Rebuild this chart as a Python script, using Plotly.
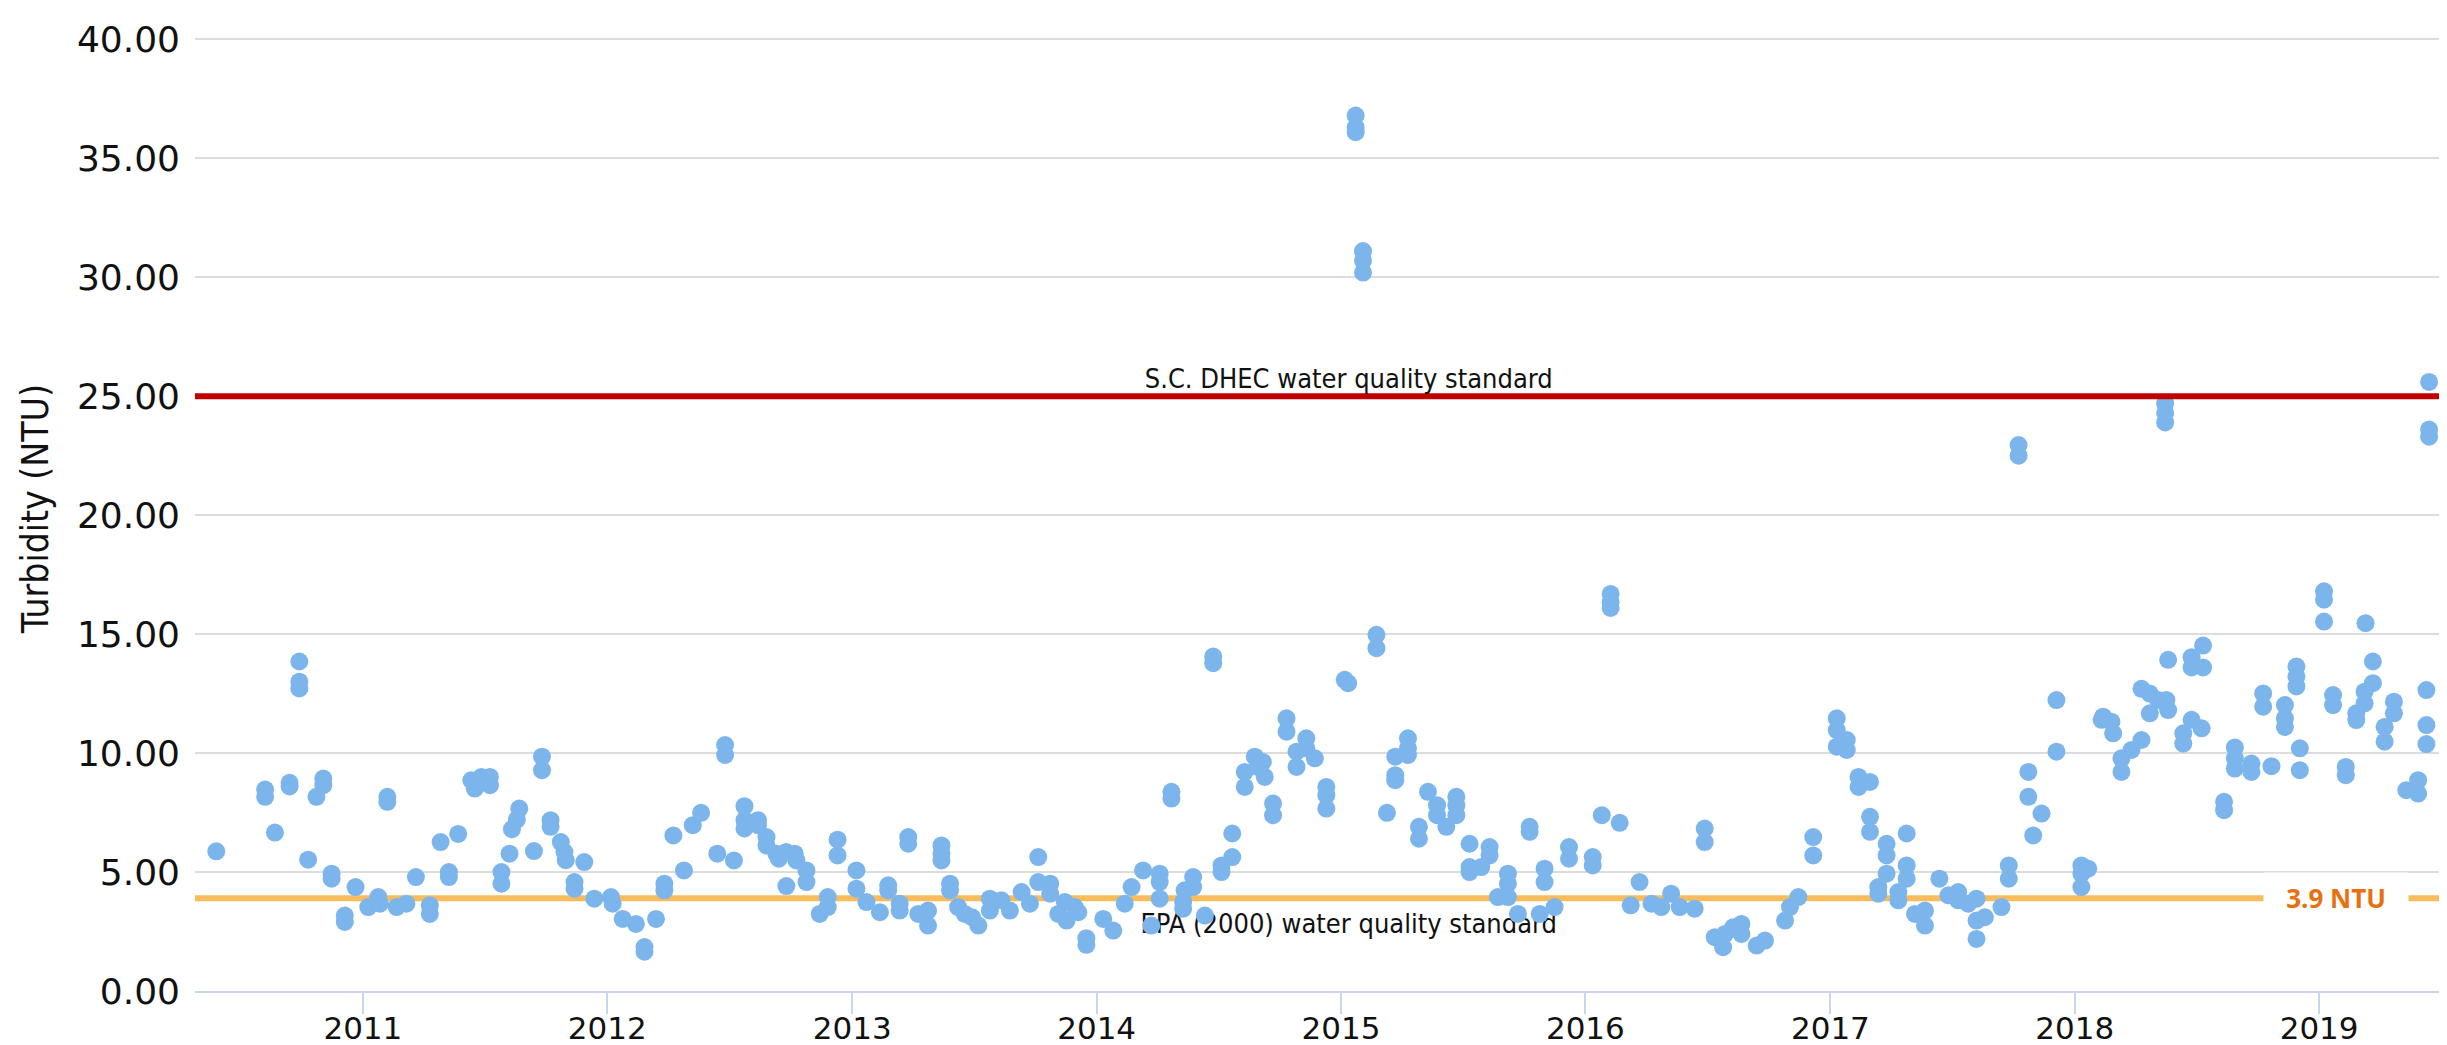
import datetime as dt
import plotly.graph_objects as go

# Sampling dates (decimal years) and turbidity values (NTU)
sample_year = [
    2010.40, 2010.60, 2010.60, 2010.64, 2010.70, 2010.70, 2010.74, 2010.74, 2010.74, 2010.776,
    2010.81, 2010.838, 2010.838, 2010.872, 2010.872, 2010.926, 2010.926, 2010.97, 2011.022, 2011.063,
    2011.07, 2011.10, 2011.10, 2011.138, 2011.178, 2011.217, 2011.274, 2011.274, 2011.318, 2011.352,
    2011.352, 2011.39, 2011.444, 2011.458, 2011.485, 2011.52, 2011.52, 2011.567, 2011.567, 2011.60,
    2011.61, 2011.63, 2011.64, 2011.70, 2011.733, 2011.733, 2011.768, 2011.768, 2011.81, 2011.825,
    2011.83, 2011.866, 2011.866, 2011.906,
    2011.947, 2012.015, 2012.022, 2012.063, 2012.117, 2012.152, 2012.152, 2012.199, 2012.233, 2012.233,
    2012.27, 2012.313, 2012.349, 2012.383, 2012.449, 2012.481, 2012.481, 2012.517, 2012.56, 2012.56,
    2012.56, 2012.615, 2012.615, 2012.65, 2012.65, 2012.69, 2012.70, 2012.73, 2012.731, 2012.765,
    2012.772, 2012.813, 2012.813, 2012.867, 2012.90, 2012.90, 2012.94, 2012.94, 2013.017, 2013.017,
    2013.058, 2013.113, 2013.147, 2013.147, 2013.194, 2013.194, 2013.229, 2013.229, 2013.27, 2013.31,
    2013.31, 2013.365, 2013.365, 2013.365, 2013.40, 2013.40, 2013.433, 2013.46,
    2013.49, 2013.516, 2013.563, 2013.563, 2013.61, 2013.645, 2013.693, 2013.727, 2013.761, 2013.761,
    2013.81, 2013.81, 2013.843, 2013.87, 2013.877, 2013.91, 2013.925, 2013.958, 2013.958, 2014.027,
    2014.068, 2014.115, 2014.143, 2014.19, 2014.224, 2014.258, 2014.258, 2014.258, 2014.306, 2014.306,
    2014.354, 2014.354, 2014.36, 2014.395, 2014.395, 2014.443, 2014.477, 2014.477, 2014.511, 2014.511,
    2014.555, 2014.555, 2014.606, 2014.606, 2014.647, 2014.66, 2014.68, 2014.688, 2014.722, 2014.722,
    2014.777, 2014.777, 2014.818, 2014.818, 2014.858, 2014.858, 2014.893, 2014.94, 2014.94, 2014.94,
    2015.015,
    2015.029, 2015.06, 2015.06, 2015.06, 2015.09, 2015.09, 2015.09, 2015.145, 2015.145, 2015.188,
    2015.222, 2015.222, 2015.222, 2015.274, 2015.274, 2015.274, 2015.319, 2015.319, 2015.356, 2015.393,
    2015.393, 2015.431, 2015.472, 2015.472, 2015.472, 2015.526, 2015.526, 2015.526, 2015.574, 2015.608,
    2015.608, 2015.642, 2015.683, 2015.683, 2015.683, 2015.724, 2015.772, 2015.772, 2015.813, 2015.833,
    2015.833, 2015.874, 2015.933, 2015.933, 2016.03, 2016.03, 2016.067, 2016.103, 2016.103, 2016.103,
    2016.14, 2016.185, 2016.221, 2016.27, 2016.31, 2016.35, 2016.385, 2016.446, 2016.487, 2016.487,
    2016.528, 2016.562,
    2016.57, 2016.603, 2016.637, 2016.637, 2016.699, 2016.733, 2016.815, 2016.835, 2016.869, 2016.93,
    2016.93, 2017.026, 2017.026, 2017.026, 2017.067, 2017.067, 2017.115, 2017.115, 2017.162, 2017.162,
    2017.162, 2017.196, 2017.196, 2017.23, 2017.23, 2017.23, 2017.278, 2017.278, 2017.312, 2017.312,
    2017.312, 2017.346, 2017.387, 2017.387, 2017.446, 2017.483, 2017.523, 2017.523, 2017.564, 2017.598,
    2017.598, 2017.598, 2017.632, 2017.70, 2017.73, 2017.73, 2017.77, 2017.77, 2017.81, 2017.81,
    2017.83, 2017.864, 2017.925, 2017.925, 2018.027, 2018.027, 2018.027, 2018.055, 2018.11,
    2018.116, 2018.15, 2018.157, 2018.191, 2018.191, 2018.232, 2018.273, 2018.273, 2018.307, 2018.307,
    2018.341, 2018.375, 2018.382, 2018.382, 2018.444, 2018.444, 2018.478, 2018.478, 2018.478, 2018.519,
    2018.525, 2018.525, 2018.37, 2018.37, 2018.37, 2018.611, 2018.611, 2018.655, 2018.655, 2018.655,
    2018.723, 2018.723, 2018.771, 2018.771, 2018.805, 2018.86, 2018.86, 2018.86, 2018.907, 2018.907,
    2018.907, 2018.921, 2018.921, 2019.02, 2019.02, 2019.02, 2019.057, 2019.057, 2019.109, 2019.109,
    2019.152, 2019.152, 2019.186, 2019.186, 2019.19, 2019.22, 2019.22, 2019.268, 2019.268, 2019.306,
    2019.306, 2019.357, 2019.405, 2019.405, 2019.439, 2019.439, 2019.439, 2019.45, 2019.45, 2019.45,
    2019.555,
]

turbidity = [
    5.87, 8.47, 8.16, 6.66, 8.75, 8.6, 13.85, 13.0, 12.72, 5.52,
    8.16, 8.93, 8.65, 4.93, 4.72, 3.17, 2.9, 4.37, 3.53, 3.95,
    3.67, 8.16, 7.95, 3.53, 3.67, 4.79, 3.6, 3.24, 6.26, 5.0,
    4.79, 6.6, 8.86, 8.51, 9.0, 9.0, 8.65, 5.0, 4.51, 5.77,
    6.8, 7.2, 7.67, 5.88, 9.85, 9.28, 7.18, 6.9, 6.26, 5.84,
    5.5, 4.58, 4.3, 5.42,
    3.88, 3.95, 3.67, 3.03, 2.82, 1.85, 1.65, 3.03, 4.51, 4.23,
    6.54, 5.07, 6.97, 7.49, 5.77, 10.34, 9.92, 5.49, 7.77, 7.18,
    6.83, 7.18, 6.97, 6.47, 6.12, 5.77, 5.56, 5.84, 4.41, 5.77,
    5.49, 5.07, 4.58, 3.24, 3.95, 3.53, 6.36, 5.7, 5.07, 4.3,
    3.74, 3.31, 4.44, 4.23, 3.67, 3.38, 6.47, 6.19, 3.24, 3.38,
    2.75, 6.12, 5.77, 5.49, 4.51, 4.23, 3.53, 3.24,
    3.1, 2.75, 3.88, 3.38, 3.81, 3.38, 4.16, 3.67, 5.63, 4.58,
    4.51, 4.09, 3.24, 3.74, 2.96, 3.53, 3.31, 2.22, 1.94, 3.03,
    2.54, 3.67, 4.37, 5.07, 2.75, 4.93, 4.58, 3.88, 8.37, 8.09,
    3.74, 3.46, 4.23, 4.79, 4.37, 3.17, 14.06, 13.78, 5.28, 5.0,
    5.63, 6.62, 9.21, 8.58, 9.85, 9.42, 9.63, 9.0, 7.88, 7.39,
    11.46, 10.9, 10.06, 9.42, 10.62, 10.2, 9.78, 8.58, 8.23, 7.67,
    13.08,
    12.94, 36.8, 36.3, 36.1, 31.1, 30.7, 30.2, 14.97, 14.41, 7.49,
    9.85, 9.07, 8.86, 10.62, 10.2, 9.92, 6.9, 6.4, 8.37, 7.81,
    7.39, 6.9, 8.16, 7.81, 7.39, 6.19, 5.21, 5.0, 5.21, 6.05,
    5.7, 3.95, 4.93, 4.51, 3.95, 3.24, 6.9, 6.69, 3.24, 5.14,
    4.58, 3.53, 6.05, 5.56, 5.63, 5.28, 7.39, 16.69, 16.34, 16.1,
    7.07, 3.6, 4.58, 3.67, 3.53, 4.09, 3.53, 3.46, 6.83, 6.26,
    2.26, 1.84,
    2.4, 2.68, 2.82, 2.4, 1.91, 2.12, 2.96, 3.53, 3.95, 6.47,
    5.7, 11.46, 10.97, 10.27, 10.55, 10.13, 9.0, 8.58, 8.79, 7.32,
    6.69, 4.37, 4.09, 6.19, 5.7, 4.93, 4.16, 3.81, 6.62, 5.28,
    4.72, 3.24, 3.38, 2.75, 4.72, 4.02, 4.16, 3.81, 3.67, 3.88,
    2.96, 2.19, 3.1, 3.53, 5.28, 4.72, 22.95, 22.5, 9.21, 8.16,
    6.54, 7.46, 12.23, 10.06, 5.28, 4.93, 4.37, 5.14, 11.4,
    11.53, 11.32, 10.83, 9.78, 9.21, 10.13, 10.55, 12.7, 12.5, 11.67,
    12.23, 12.23, 11.81, 13.92, 10.83, 10.4, 11.4, 14.03, 13.6, 11.04,
    14.52, 13.6, 24.7, 24.3, 23.9, 7.95, 7.6, 10.24, 9.78, 9.35,
    9.56, 9.21, 12.51, 11.95, 9.45, 12.02, 11.46, 11.1, 13.64, 13.22,
    12.8, 10.2, 9.28, 16.8, 16.45, 15.53, 12.44, 12.02, 9.42, 9.07,
    11.67, 11.39, 12.58, 12.09, 15.46, 13.85, 12.94, 11.1, 10.48, 12.16,
    11.67, 8.44, 8.86, 8.3, 12.65, 11.18, 10.38, 25.6, 23.6, 23.3,
    13.2,
]

# Reference standards
dhec_standard = 25.0
epa_standard = 3.9
dhec_label = "S.C. DHEC water quality standard"
epa_label = "EPA (2000) water quality standard"
epa_value_label = "3.9 NTU"
y_title = "Turbidity (NTU)"
x_range_years = [2010.313, 2019.556]
y_range = [0, 40.1]


def dec_to_date(d):
    y = int(d)
    start = dt.datetime(y, 1, 1)
    end = dt.datetime(y + 1, 1, 1)
    return start + (end - start) * (d - y)


dates = [dec_to_date(v) for v in sample_year]

W, H = 2447, 1045
ML, MR, MT, MB = 187, 0, 29, 62

fig = go.Figure()
fig.add_trace(go.Scatter(
    x=dates, y=turbidity, mode="markers",
    marker=dict(color="#7cb5ec", size=18, line=dict(width=0)),
    showlegend=False, hoverinfo="x+y",
))

label_font = dict(family="DejaVu Sans Condensed, DejaVu Sans, sans-serif", size=27, color="#111111")

# S.C. DHEC standard line (red)
fig.add_shape(
    type="line", xref="paper", yref="y", x0=0, x1=1.021, y0=dhec_standard, y1=dhec_standard,
    line=dict(color="#c00000", width=6), layer="above",
    label=dict(text=dhec_label, textposition="middle", yanchor="bottom", padding=4, font=label_font),
)
# EPA standard line (orange)
fig.add_shape(
    type="line", xref="paper", yref="y", x0=0, x1=1.021, y0=epa_standard, y1=epa_standard,
    line=dict(color="#f9bc5c", width=6), layer="between",
    label=dict(text=epa_label, textposition="middle", yanchor="top", padding=8, font=label_font),
)

fig.add_annotation(
    xref="paper", yref="y", x=(2328 - ML) / (W - ML - MR), y=epa_standard,
    text="<b>" + epa_value_label + "</b>", showarrow=False,
    font=dict(family="Open Sans, Noto Sans, sans-serif", size=26, color="#e8700f"),
    bgcolor="white", width=144, height=50, borderpad=0, xanchor="center", yanchor="middle",
)

fig.add_annotation(
    xref="paper", yref="paper", x=(27 - ML) / (W - ML - MR), y=0.505,
    text=y_title, textangle=-90, showarrow=False,
    font=dict(family="DejaVu Sans Condensed, DejaVu Sans, sans-serif", size=37, color="#111111"),
    xanchor="center", yanchor="middle",
)

fig.update_layout(
    width=W, height=H,
    margin=dict(l=ML, r=MR, t=MT, b=MB),
    paper_bgcolor="white", plot_bgcolor="white",
    showlegend=False,
    xaxis=dict(
        type="date",
        range=[dec_to_date(x_range_years[0]), dec_to_date(x_range_years[1])],
        tick0="2011-01-01", dtick="M12", tickformat="%Y",
        showgrid=False, zeroline=False,
        showline=True, linecolor="#ccd6eb", linewidth=2,
        ticks="outside", ticklen=21, tickwidth=2, tickcolor="#ccd6eb",
        ticklabelstandoff=-12,
        tickfont=dict(family="DejaVu Sans, sans-serif", size=31, color="#111111"),
    ),
    yaxis=dict(
        range=y_range, dtick=5, tick0=0, tickformat=".2f",
        showgrid=True, gridcolor="#dcdcdc", gridwidth=2,
        zeroline=False, showline=False,
        ticks="", ticklabelstandoff=14,
        tickfont=dict(family="DejaVu Sans, sans-serif", size=36, color="#111111"),
    ),
)

fig.write_html("out.html")
